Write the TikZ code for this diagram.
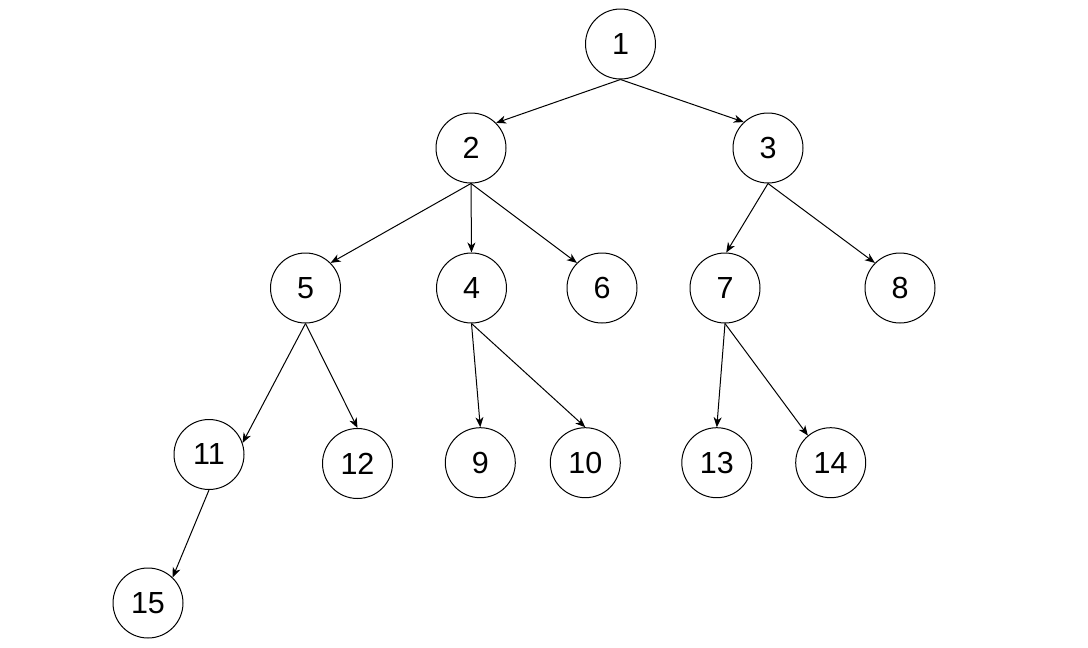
\documentclass[tikz,border=0pt]{standalone}
\usepackage{fontspec}
\setmainfont{Liberation Sans}
\usetikzlibrary{arrows.meta}
\begin{document}
\begin{tikzpicture}[x=1pt,y=-1pt,
  tnode/.style={draw,circle,line width=1pt,minimum size=70pt,inner sep=0pt,font=\fontsize{30.5}{34}\selectfont},
  edge/.style={line width=1pt,-{Stealth[length=10pt,width=8pt,inset=3pt]}}]
\useasboundingbox (0,0) rectangle (1088,648);
\node[tnode] (n1) at (620.5,44) {1};
\node[tnode] (n2) at (471,148) {2};
\node[tnode] (n3) at (768,148) {3};
\node[tnode] (n5) at (305.5,288) {5};
\node[tnode] (n4) at (471.5,288) {4};
\node[tnode] (n6) at (602,288) {6};
\node[tnode] (n7) at (725,288) {7};
\node[tnode] (n8) at (900,288) {8};
\node[tnode] (n11) at (209,454.5) {11};
\node[tnode] (n12) at (357.5,463.5) {12};
\node[tnode] (n9) at (480.3,462.7) {9};
\node[tnode] (n10) at (585.3,462.7) {10};
\node[tnode] (n13) at (716.8,462.7) {13};
\node[tnode] (n14) at (830.7,462.7) {14};
\node[tnode] (n15) at (148,603) {15};
\draw[edge] (n1.south) -- (n2.45);
\draw[edge] (n1.south) -- (n3.133);
\draw[edge] (n2.south) -- (n5.45);
\draw[edge] (n2.south) -- (n4.north);
\draw[edge] (n2.south) -- (n6.135);
\draw[edge] (n3.south) -- (n7.88);
\draw[edge] (n3.south) -- (n8.135);
\draw[edge] (n5.south) -- (n11.19);
\draw[edge] (n5.south) -- (n12.north);
\draw[edge] (n4.south) -- (n9.north);
\draw[edge] (n4.south) -- (n10.north);
\draw[edge] (n7.south) -- (n13.north);
\draw[edge] (n7.south) -- (n14.130);
\draw[edge] (n11.south) -- (n15.46);
\end{tikzpicture}
\end{document}
